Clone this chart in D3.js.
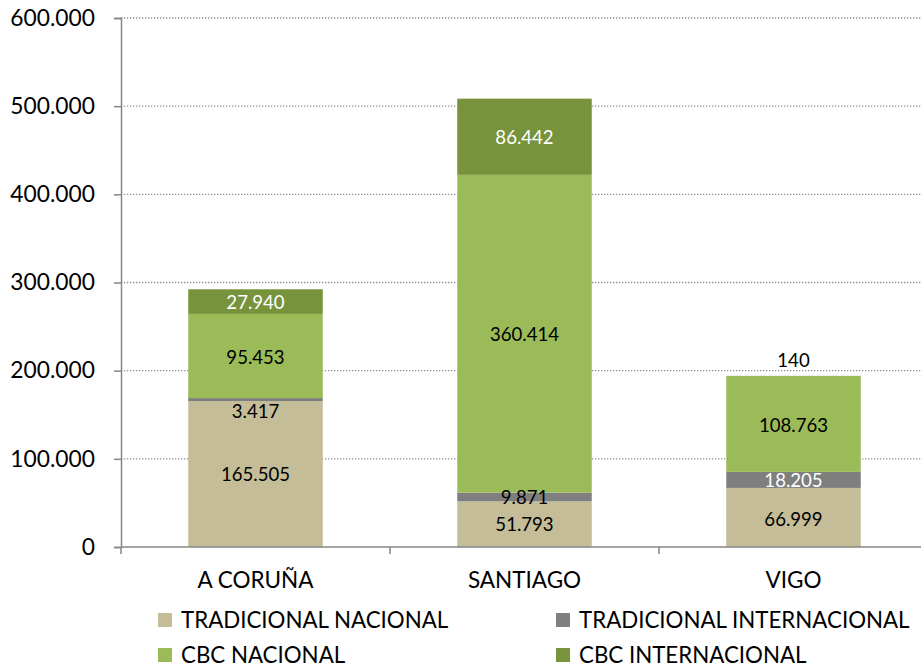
<!DOCTYPE html>
<html><head><meta charset="utf-8">
<script src="https://cdn.jsdelivr.net/npm/d3@7/dist/d3.min.js"></script>
<style>body{margin:0;background:#fff}svg{display:block;font-family:Lato,"Open Sans",sans-serif}</style>
</head><body><svg id="c" width="921" height="667"></svg>
<script>
const categories = ["A CORUÑA", "SANTIAGO", "VIGO"];
const seriesNames = ["TRADICIONAL NACIONAL", "TRADICIONAL INTERNACIONAL", "CBC NACIONAL", "CBC INTERNACIONAL"];
const tradNacional = [165505, 51793, 66999];
const tradInternacional = [3417, 9871, 18205];
const cbcNacional = [95453, 360414, 108763];
const cbcInternacional = [27940, 86442, 140];
const yTicks = [0, 100000, 200000, 300000, 400000, 500000, 600000];

(function () {
const colors = ["#C4BD97", "#7F7F7F", "#9BBB59", "#77933C"];
const labelColors = [
  ["#000", "#000", "#000"],
  ["#000", "#000", "#fff"],
  ["#000", "#000", "#000"],
  ["#fff", "#fff", "#000"]
];
const labelNudge = [
  [0, 0, 2],
  [12, 0, 0],
  [1, 1, 1],
  [1, 1, -16]
];

const seriesValues = [tradNacional, tradInternacional, cbcNacional, cbcInternacional];
const data = categories.map((c, i) => {
  const o = {cat: c};
  seriesNames.forEach((s, j) => o[s] = seriesValues[j][i]);
  return o;
});
const stack = d3.stack().keys(seriesNames)(data);

const svg = d3.select("#c");
const mL = 121, mR = 928, mT = 18, mB = 547;
const x = d3.scaleBand().domain(categories).range([mL, mR]).paddingInner(0.5).paddingOuter(0.25);
const y = d3.scaleLinear().domain([0, 600000]).range([mB, mT]);
const fmt = v => d3.format(",")(v).replace(/,/g, ".");

svg.append("g").selectAll("line").data(yTicks.filter(d => d > 0)).join("line")
  .attr("x1", mL).attr("x2", 921).attr("y1", d => y(d)).attr("y2", d => y(d))
  .attr("stroke", "#8c8c8c").attr("stroke-width", 1.3).attr("stroke-dasharray", "1.3,1.7");

const ya = svg.append("g").attr("transform", `translate(${mL},0)`)
  .call(d3.axisLeft(y).tickValues(yTicks).tickFormat(fmt).tickSize(7).tickPadding(19));
ya.select(".domain").attr("stroke", "#868686").attr("stroke-width", 1.5);
ya.selectAll(".tick line").attr("stroke", "#868686").attr("stroke-width", 1.5);
ya.selectAll("text").attr("font-size", 22.8).attr("fill", "#000").attr("font-family", "Lato");

const g = svg.append("g");
stack.forEach((layer, j) => {
  g.selectAll(null).data(layer).join("rect")
    .attr("x", d => x(d.data.cat)).attr("width", x.bandwidth())
    .attr("y", d => y(d[1])).attr("height", d => y(d[0]) - y(d[1]))
    .attr("fill", colors[j]);
});

svg.append("line").attr("x1", mL).attr("x2", 921).attr("y1", mB).attr("y2", mB)
  .attr("stroke", "#868686").attr("stroke-width", 1.5);
const step = x.step();
svg.append("g").selectAll("line").data(d3.range(categories.length + 1)).join("line")
  .attr("x1", i => mL + i * step).attr("x2", i => mL + i * step)
  .attr("y1", mB).attr("y2", mB + 7)
  .attr("stroke", "#868686").attr("stroke-width", 1.5);
svg.append("g").selectAll("text").data(categories).join("text")
  .attr("x", d => x(d) + x.bandwidth() / 2).attr("y", 580).attr("dy", "0.36em")
  .attr("text-anchor", "middle").attr("font-size", 22.5).text(d => d);

stack.forEach((layer, j) => {
  g.selectAll(null).data(layer).join("text")
    .attr("x", d => x(d.data.cat) + x.bandwidth() / 2)
    .attr("y", (d, i) => (y(d[0]) + y(d[1])) / 2 + labelNudge[j][i])
    .attr("dy", "0.36em").attr("text-anchor", "middle").attr("font-size", 18.6)
    .attr("fill", (d, i) => labelColors[j][i])
    .text(d => fmt(d[1] - d[0]));
});

const legPos = [[158, 620], [556, 620], [158, 655], [556, 655]];
const lg = svg.append("g").selectAll("g").data(seriesNames).join("g")
  .attr("transform", (d, i) => `translate(${legPos[i][0]},${legPos[i][1]})`);
lg.append("rect").attr("x", 0).attr("y", -7).attr("width", 14).attr("height", 14).attr("fill", (d, i) => colors[i]);
lg.append("text").attr("x", 23).attr("dy", "0.36em").attr("font-size", 22.3).text(d => d);
})();
</script></body></html>
